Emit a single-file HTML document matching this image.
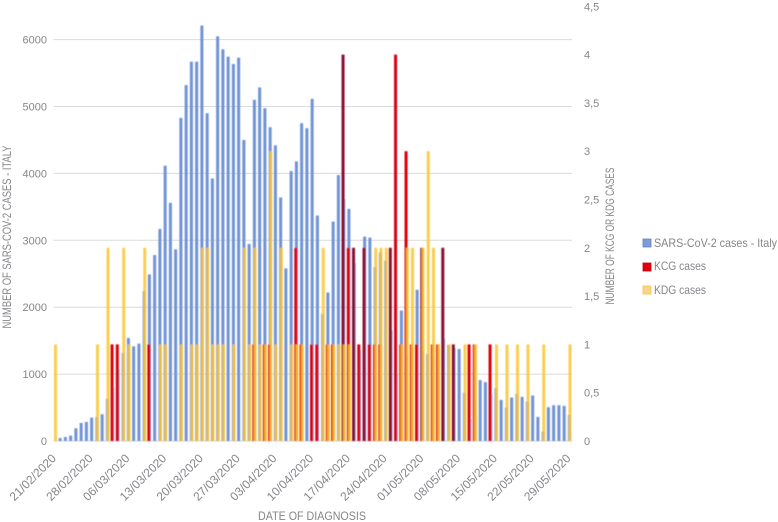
<!DOCTYPE html>
<html lang="en">
<head>
<meta charset="utf-8">
<title>SARS-CoV-2 cases in Italy with KCG and KDG cases</title>
<style>
html,body{margin:0;padding:0;background:#fff;}
body{width:778px;height:522px;overflow:hidden;}
svg{display:block;}
text{font-family:"Liberation Sans",sans-serif;fill:#85858a;}
</style>
</head>
<body>
<svg id="chart" width="778" height="522" viewBox="0 0 778 522" xmlns="http://www.w3.org/2000/svg">
  <defs>
    <filter id="soft" x="-5%" y="-5%" width="110%" height="110%"><feGaussianBlur stdDeviation="0.45"/></filter>
    <filter id="softText" x="-5%" y="-5%" width="110%" height="110%"><feGaussianBlur stdDeviation="0.3"/></filter>
  </defs>
  <g id="grid" filter="url(#softText)"></g>
  <g id="bars" filter="url(#soft)"></g>
  <g id="ticks" filter="url(#softText)"></g>
  <g filter="url(#softText)">
    <text transform="translate(11,237) rotate(-90)" text-anchor="middle" font-size="12" textLength="183" lengthAdjust="spacingAndGlyphs">NUMBER OF SARS-COV-2 CASES - ITALY</text>
    <text transform="translate(614,236) rotate(-90)" text-anchor="middle" font-size="12" textLength="137" lengthAdjust="spacingAndGlyphs">NUMBER OF KCG OR KDG CASES</text>
    <text x="312" y="520" text-anchor="middle" font-size="12" textLength="108" lengthAdjust="spacingAndGlyphs">DATE OF DIAGNOSIS</text>
  </g>
  <g filter="url(#softText)">
    <g>
      <rect x="643" y="239" width="8" height="8" fill="#7f9bd6" stroke="#5f82c6" stroke-width="0.8"/>
      <text x="654" y="247" font-size="12" textLength="123" lengthAdjust="spacingAndGlyphs">SARS-CoV-2 cases - Italy</text>
    </g>
    <g>
      <rect x="643" y="263" width="8" height="8" fill="#e00010" stroke="#c80010" stroke-width="0.8"/>
      <text x="654" y="270" font-size="12" textLength="52" lengthAdjust="spacingAndGlyphs">KCG cases</text>
    </g>
    <g>
      <rect x="643" y="286" width="8" height="8" fill="#fbd38a" stroke="#f5c842" stroke-width="0.8"/>
      <text x="654" y="294" font-size="12" textLength="52" lengthAdjust="spacingAndGlyphs">KDG cases</text>
    </g>
  </g>
</svg>
<script>
const dateLabels = ["21/02/2020","28/02/2020","06/03/2020","13/03/2020","20/03/2020","27/03/2020","03/04/2020","10/04/2020","17/04/2020","24/04/2020","01/05/2020","08/05/2020","15/05/2020","22/05/2020","29/05/2020"];
const leftTicks = [0,1000,2000,3000,4000,5000,6000];
const rightTicks = ["0","0,5","1","1,5","2","2,5","3","3,5","4","4,5"];
const italyCases = [
0,45,60,80,190,270,285,350,360,400,
630,810,1075,1315,1540,1415,1455,2240,2490,2780,
3170,4115,3560,2865,4830,5320,5670,5670,6210,4900,
3925,6050,5855,5745,5635,5730,4500,2945,5100,5285,
4975,4690,4420,3640,2580,4035,4180,4750,4675,5115,
3370,1900,2220,3280,3975,3620,3470,2660,1360,3055,
3040,2600,2820,2695,1660,1015,1950,1300,1400,2260,
1350,1300,1250,1200,1535,1435,1390,1375,720,330,
600,910,880,700,790,615,500,650,705,660,
590,680,360,140,505,535,535,525,390];
const kcgCases = [
0,0,0,0,0,0,0,0,0,0,
0,1,1,0,0,0,0,0,1,0,
0,0,0,0,0,0,0,0,0,0,
0,0,0,0,0,0,0,0,1,0,
1,1,0,0,0,0,2,1,0,1,
1,0,1,1,0,4,2,2,1,2,
1,1,1,0,2,4,1,3,1,1,
2,0,1,1,2,0,1,0,0,1,
1,0,0,1,0,0,0,0,0,0,
0,0,0,0,0,0,0,0,0];
const kdgCases = [
1,0,0,0,0,0,0,0,1,0,
2,0,0,2,1,0,0,2,0,0,
1,1,0,0,1,0,1,1,2,2,
1,1,1,0,1,0,2,1,2,1,
1,3,1,2,0,1,1,1,0,0,
0,2,1,1,1,1,1,0,0,0,
0,2,2,2,0,0,1,2,2,0,
2,3,2,1,0,1,0,0,1,0,
1,0,0,0,1,0,1,0,1,0,
1,0,0,1,0,0,0,0,1];
const maroonKcgDays = [55,57,59,64,70,74,76];

const NS = "http://www.w3.org/2000/svg";
const baseY = 441;
function xPos(i){ return 54.9 + 5.25 * i; }
function yLeft(v){ return baseY - v * 0.0669; }
function yRight(v){ return baseY - v * 96.6; }
const gridG = document.getElementById("grid");
const barsG = document.getElementById("bars");
const ticksG = document.getElementById("ticks");

leftTicks.forEach(function(t){
  const line = document.createElementNS(NS,"line");
  
  
  line.setAttribute("x1",53.5);
  line.setAttribute("x2",572);
  line.setAttribute("y1",yLeft(t));
  line.setAttribute("y2",yLeft(t));
  line.setAttribute("stroke","#dcdcdc");
  line.setAttribute("stroke-width","1");
  gridG.appendChild(line);
  const label = document.createElementNS(NS,"text");
  
  
  label.setAttribute("x",47);
  label.setAttribute("y",yLeft(t)+4);
  label.setAttribute("text-anchor","end");
  label.setAttribute("font-size","11");
  label.textContent = t;
  ticksG.appendChild(label);
});

rightTicks.forEach(function(t){
  const label = document.createElementNS(NS,"text");
  
  
  label.setAttribute("x",584);
  label.setAttribute("y",yRight(parseFloat(t.replace(",",".")))+4);
  label.setAttribute("font-size","11");
  label.textContent = t;
  ticksG.appendChild(label);
});

dateLabels.forEach(function(d,k){
  const label = document.createElementNS(NS,"text");
  
  
  const tx = xPos(k*7)+2;
  label.setAttribute("transform","translate("+tx+",459) rotate(-45)");
  label.setAttribute("text-anchor","end");
  label.setAttribute("font-size","12");
  label.textContent = d;
  ticksG.appendChild(label);
});

italyCases.forEach(function(v,i){
  if(!v) return;
  const r = document.createElementNS(NS,"rect");
  
  
  r.setAttribute("x",xPos(i)-1.5);
  r.setAttribute("y",yLeft(v));
  r.setAttribute("width",3);
  r.setAttribute("height",baseY-yLeft(v));
  r.setAttribute("fill","#6f93d6");
  barsG.appendChild(r);
});

kcgCases.forEach(function(v,i){
  if(!v) return;
  const r = document.createElementNS(NS,"rect");
  
  
  r.setAttribute("x",xPos(i)-2.1);
  r.setAttribute("y",yRight(v));
  r.setAttribute("width",3);
  r.setAttribute("height",baseY-yRight(v));
  r.setAttribute("fill",maroonKcgDays.indexOf(i)>=0 ? "#8c1030" : "#dc0010");
  barsG.appendChild(r);
});

kdgCases.forEach(function(v,i){
  if(!v) return;
  const r = document.createElementNS(NS,"rect");
  
  
  r.setAttribute("x",xPos(i)-0.9);
  r.setAttribute("y",yRight(v));
  r.setAttribute("width",3);
  r.setAttribute("height",baseY-yRight(v));
  r.setAttribute("fill","#fbc530");
  r.setAttribute("fill-opacity","0.85");
  barsG.appendChild(r);
});
</script>
</body>
</html>
